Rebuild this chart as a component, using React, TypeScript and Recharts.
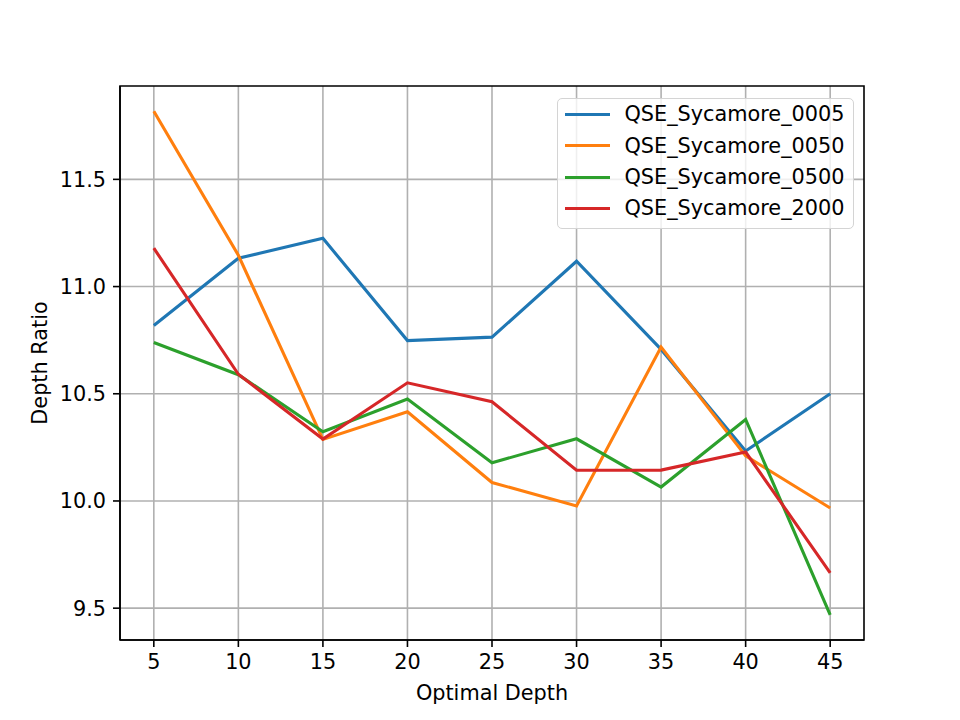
import { LineChart, Line, XAxis, YAxis, CartesianGrid, Legend, ReferenceArea } from "recharts";

// Depth ratio per optimal depth for four Sycamore QSE runs.
const DEPTHS = [5, 10, 15, 20, 25, 30, 35, 40, 45];
const SYC_0005 = [10.818, 11.132, 11.225, 10.748, 10.764, 11.118, 10.707, 10.233, 10.5];
const SYC_0050 = [11.818, 11.146, 10.287, 10.416, 10.086, 9.977, 10.718, 10.21, 9.967];
const SYC_0500 = [10.739, 10.589, 10.323, 10.475, 10.178, 10.29, 10.065, 10.38, 9.469];
const SYC_2000 = [11.179, 10.591, 10.289, 10.551, 10.463, 10.143, 10.144, 10.228, 9.665];

const X_TICKS = [5, 10, 15, 20, 25, 30, 35, 40, 45];
const Y_TICKS = [9.5, 10.0, 10.5, 11.0, 11.5];

const SERIES = [
  { key: "s0005", name: "QSE_Sycamore_0005", color: "#1f77b4", values: SYC_0005 },
  { key: "s0050", name: "QSE_Sycamore_0050", color: "#ff7f0e", values: SYC_0050 },
  { key: "s0500", name: "QSE_Sycamore_0500", color: "#2ca02c", values: SYC_0500 },
  { key: "s2000", name: "QSE_Sycamore_2000", color: "#d62728", values: SYC_2000 },
];

const data = DEPTHS.map((d, i) => {
  const row: Record<string, number> = { depth: d };
  SERIES.forEach((s) => (row[s.key] = s.values[i]));
  return row;
});

// matplotlib-style 5% padding around the data
function padded(vals: number[]): [number, number] {
  const lo = Math.min(...vals);
  const hi = Math.max(...vals);
  const m = (hi - lo) * 0.05;
  return [lo - m, hi + m];
}
const X_DOMAIN = padded(DEPTHS);
const Y_DOMAIN = padded(SERIES.flatMap((s) => s.values));

const FONT = "DejaVu Sans";
const FS = 20.8;
const AXIS = "#000";
const tickStyle = { fill: "#000", fontSize: FS, fontFamily: FONT };

function YTitle(props: any) {
  const vb = props.viewBox ?? { x: 0, y: 86, width: 120, height: 554 };
  const x = vb.x + 47;
  const y = vb.y + vb.height / 2;
  return (
    <text x={x} y={y} transform={`rotate(-90 ${x} ${y})`} textAnchor="middle"
      fontSize={FS} fontFamily={FONT} fill="#000">
      Depth Ratio
    </text>
  );
}

function XTitle(props: any) {
  const vb = props.viewBox ?? { x: 120, y: 640, width: 744, height: 80 };
  return (
    <text x={vb.x + vb.width / 2} y={vb.y + 60} textAnchor="middle"
      fontSize={FS} fontFamily={FONT} fill="#000">
      Optimal Depth
    </text>
  );
}

function LegendBox() {
  return (
    <div
      style={{
        width: 297,
        height: 131,
        boxSizing: "border-box",
        border: "1.5px solid #d4d4d4",
        borderRadius: 5,
        background: "rgba(255,255,255,0.8)",
        fontFamily: FONT,
        fontSize: FS,
        color: "#000",
      }}
    >
      {SERIES.map((s) => (
        <div key={s.key} style={{ height: 31.3, display: "flex", alignItems: "center" }}>
          <div style={{ marginLeft: 6.5, width: 45, height: 3, background: s.color }} />
          <span style={{ marginLeft: 15, lineHeight: 1, whiteSpace: "nowrap" }}>{s.name}</span>
        </div>
      ))}
    </div>
  );
}

export default function App() {
  return (
    <div style={{ position: "absolute", left: 0, top: 0, width: 960, height: 720, background: "#fff" }}>
      <LineChart width={960} height={720} data={data} margin={{ top: 86, right: 96, left: 0, bottom: 0 }}>
        <CartesianGrid stroke="#b0b0b0" strokeWidth={1.6} horizontalValues={Y_TICKS} verticalValues={X_TICKS} />
        <XAxis
          dataKey="depth"
          type="number"
          domain={X_DOMAIN}
          allowDataOverflow
          ticks={X_TICKS}
          height={80}
          tickSize={7}
          tickMargin={7}
          tick={tickStyle}
          stroke={AXIS}
          axisLine={{ stroke: AXIS, strokeWidth: 1.6 }}
          tickLine={{ stroke: AXIS, strokeWidth: 1.6 }}
          label={<XTitle />}
        />
        <YAxis
          type="number"
          domain={Y_DOMAIN}
          allowDataOverflow
          ticks={Y_TICKS}
          width={120}
          tickSize={7}
          tickMargin={7}
          tick={tickStyle}
          tickFormatter={(v: number) => v.toFixed(1)}
          axisLine={{ stroke: AXIS, strokeWidth: 1.6 }}
          tickLine={{ stroke: AXIS, strokeWidth: 1.6 }}
          label={<YTitle />}
        />
        {/* frame around the plot area, spanning the full axis domains */}
        <ReferenceArea
          x1={X_DOMAIN[0]}
          x2={X_DOMAIN[1]}
          y1={Y_DOMAIN[0]}
          y2={Y_DOMAIN[1]}
          fill="none"
          fillOpacity={0}
          stroke={AXIS}
          strokeWidth={1.6}
          ifOverflow="visible"
        />
        <Legend
          layout="horizontal"
          verticalAlign="middle"
          align="center"
          content={<LegendBox />}
          wrapperStyle={{ position: "absolute", left: 557, top: 98, width: 297, height: 131 }}
        />
        {SERIES.map((s) => (
          <Line
            key={s.key}
            type="linear"
            dataKey={s.key}
            name={s.name}
            stroke={s.color}
            strokeWidth={3.1}
            dot={false}
            activeDot={false}
            isAnimationActive={false}
          />
        ))}
      </LineChart>
    </div>
  );
}
